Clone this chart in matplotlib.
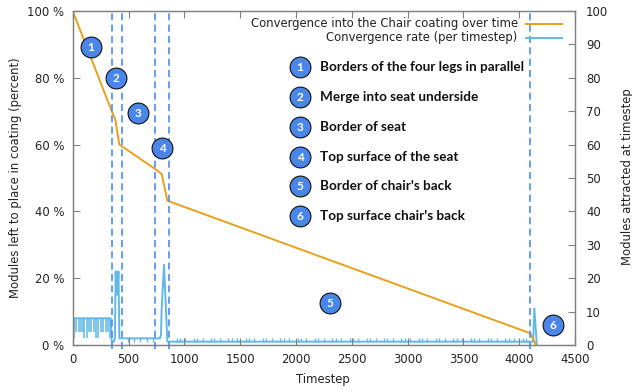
import matplotlib
matplotlib.use('Agg')
import matplotlib.pyplot as plt
from matplotlib.lines import Line2D

W, H = 632, 390

# convergence into the coating, percent of modules left
conv_t = [0, 350, 380, 418, 752, 797, 848, 4100, 4150]
conv_v = [100, 70, 67.7, 60, 52.4, 51.2, 43.2, 3.5, 0]

# attraction rate, main outline
rate_t = [0, 8, 340, 350, 368, 378, 385, 392, 397, 403, 410, 418, 782, 791, 796, 818, 848,
          4100, 4125, 4136, 4158]
rate_v = [1, 8, 8, 1, 1, 2, 22, 15, 22, 16, 22, 2, 2, 3, 10, 24, 1, 1, 1, 11, 0]

# teeth of the comb during the first phase
comb_t = [10, 31, 52, 73, 94, 105, 126, 147, 168, 189, 210, 231, 252, 273, 294, 315, 336]
comb_low = [2, 4, 4, 4, 4, 2, 2, 4, 4, 4, 2, 2, 4, 4, 4, 4, 2]

# short dips under the flat part of the seat border
dip_t = [498, 550, 603, 663, 722]

# short bumps over the long flat part
bump_t = [930, 960, 1008, 1085, 1115, 1163, 1240, 1270, 1318, 1395, 1425, 1473,
          1550, 1580, 1628, 1705, 1735, 1783, 1860, 1890, 1938, 2015, 2045, 2093,
          2170, 2200, 2248, 2325, 2355, 2403, 2480, 2510, 2558, 2635, 2665, 2713,
          2790, 2820, 2868, 2945, 2975, 3023, 3100, 3130, 3178, 3255, 3285, 3333,
          3410, 3440, 3488, 3565, 3595, 3643, 3720, 3750, 3798, 3875, 3905, 3953,
          4030, 4060]

phase_t = [350, 442, 735, 866, 4100]

x_ticks = [0, 500, 1000, 1500, 2000, 2500, 3000, 3500, 4000, 4500]
left_ticks = [0, 20, 40, 60, 80, 100]
right_ticks = [0, 10, 20, 30, 40, 50, 60, 70, 80, 90, 100]

phase_labels = ['Borders of the four legs in parallel', 'Merge into seat underside',
                'Border of seat', 'Top surface of the seat',
                "Border of chair's back", "Top surface chair's back"]

ORANGE = '#e6a11c'
BLUE = '#62b8e6'
DASH = '#4a8cf0'
GRAY = '#808080'

plt.rcParams['font.family'] = 'DejaVu Sans'
plt.rcParams['font.size'] = 8.4
plt.rcParams['text.color'] = '#222222'
plt.rcParams['xtick.labelcolor'] = '#222222'
plt.rcParams['ytick.labelcolor'] = '#222222'

fig = plt.figure(figsize=(W / 100, H / 100), dpi=100)
ax = fig.add_axes([72.7 / W, 1 - 345 / H, (575 - 72.7) / W, (345 - 11) / H])
ax2 = ax.twinx()

ax2.vlines(comb_t, comb_low, 8, color=BLUE, lw=1.4, alpha=0.8)
ax2.vlines(dip_t, 1, 2, color=BLUE, lw=1.0)
ax2.vlines(bump_t, 1, 2.2, color=BLUE, lw=1.0)
rate_line, = ax2.plot(rate_t, rate_v, color=BLUE, lw=1.4)

conv_line, = ax.plot(conv_t, conv_v, color=ORANGE, lw=1.4)
ax.set_zorder(ax2.get_zorder() + 1)
ax.patch.set_visible(False)

for t in phase_t:
    ax.plot([t, t], [-1.2, 100.3], color=DASH, lw=1.2, dashes=(4.2, 2.6), clip_on=False)

ax.set_xlim(0, 4500)
ax.set_ylim(0, 100)
ax2.set_ylim(0, 100)
ax.set_xticks(x_ticks)
ax.set_yticks(left_ticks)
ax.set_yticklabels([f'{v} %' for v in left_ticks])
ax2.set_yticks(right_ticks)
ax.tick_params(axis='x', direction='in', top=True, length=5, width=0.8, color=GRAY, pad=6)
ax.tick_params(axis='y', direction='in', length=5, width=0.8, color=GRAY, pad=6)
ax2.tick_params(axis='y', direction='in', length=5, width=0.8, color=GRAY, pad=8)
for a in (ax, ax2):
    for s in a.spines.values():
        s.set_color(GRAY)
        s.set_linewidth(0.9)

fig.text(323 / W, 1 - 380 / H, 'Timestep', ha='center', va='center')
fig.text(16 / W, 1 - 177.5 / H, 'Modules left to place in coating (percent)',
         rotation=90, ha='center', va='center')
fig.text(627 / W, 1 - 177 / H, 'Modules attracted at timestep',
         rotation=90, ha='center', va='center')

# legend, labels on the left of the line samples
for y, label, col in [(24, 'Convergence into the Chair coating over time', ORANGE),
                      (38, 'Convergence rate (per timestep)', BLUE)]:
    fig.text(517.7 / W, 1 - y / H, label, ha='right', va='center')
    fig.add_artist(Line2D([526 / W, 562 / W], [1 - y / H, 1 - y / H], color=col, lw=1.4,
                          transform=fig.transFigure))


def badge(x, y, n):
    fig.add_artist(Line2D([x / W], [1 - y / H], marker='o', ms=15, mfc='#4a86e8', mec='#111111',
                          mew=0.8, ls='none', transform=fig.transFigure, zorder=5))
    fig.text(x / W, 1 - (y + 0.5) / H, str(n), color='white', fontsize=8.5, fontweight='bold',
             family='Lato', ha='center', va='center', zorder=6)


for n, (x, y) in enumerate([(91, 47), (116, 78), (138, 113), (162, 148), (330, 303), (553, 325)], 1):
    badge(x, y, n)

for n, (y, label) in enumerate(zip([67, 97, 127, 157, 186, 216], phase_labels), 1):
    badge(300, y, n)
    fig.text(320 / W, 1 - y / H, label, family='Lato', fontweight='bold', fontsize=9.7,
             color='#111111', ha='left', va='center', zorder=6)

fig.savefig('out.png', dpi=100)
